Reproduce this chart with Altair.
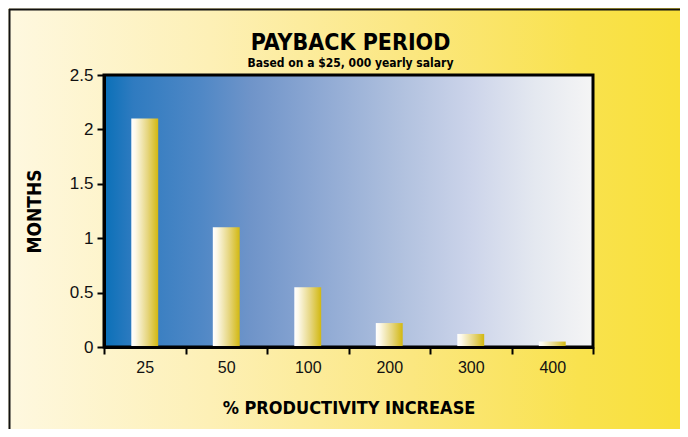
import altair as alt
import pandas as pd

# ---- data ----
categories = ["25", "50", "100", "200", "300", "400"]
months = [2.1, 1.1, 0.55, 0.22, 0.12, 0.05]
y_ticks = [0, 0.5, 1, 1.5, 2, 2.5]
title_text = "PAYBACK PERIOD"
subtitle_text = "Based on a $25, 000 yearly salary"

df = pd.DataFrame({"pct": categories, "months": months})
one = pd.DataFrame({"a": [0]})

W, H = 489, 272
PAD = {"left": 96, "top": 67, "right": 87, "bottom": 82}

COND = "Liberation Sans Narrow, DejaVu Sans Condensed, sans-serif"


def grad(stops):
    return alt.LinearGradient(
        gradient="linear", x1=0, x2=1, y1=0, y2=0,
        stops=[alt.GradientStop(offset=o, color=c) for o, c in stops],
    )


bg_grad = grad([(0, "#fef8e0"), (0.3, "#fdf0b6"), (0.6, "#fbe780"),
                (0.85, "#f9e24e"), (1, "#f9e03a")])
plot_grad = grad([(0, "#0a70b8"), (0.06, "#2f7bc0"), (0.2, "#5088c6"),
                  (0.3, "#6f94c9"), (0.45, "#90aad4"), (0.6, "#afc0de"),
                  (0.75, "#ccd4ea"), (0.88, "#e4e8f0"), (1, "#f5f5f5")])
bar_grad = grad([(0, "#ffffff"), (0.15, "#fdf9ea"), (0.6, "#e6d680"),
                 (1, "#d2b810")])

x_enc = alt.X(
    "pct:N", sort=categories,
    scale=alt.Scale(paddingInner=0, paddingOuter=0),
    axis=alt.Axis(
        title="% PRODUCTIVITY INCREASE", labelAngle=0, tickBand="extent",
        titlePadding=24, titleFontSize=18, zindex=2,
    ),
)
y_enc = alt.Y(
    "months:Q", scale=alt.Scale(domain=[0, 2.5], nice=False),
    axis=alt.Axis(values=y_ticks, format="~g", title="MONTHS",
                  titlePadding=25, titleFontSize=19, zindex=2),
)

background = alt.Chart(one).mark_rect(color=bg_grad).encode(
    x=alt.value(-PAD["left"]), x2=alt.value(W + PAD["right"]),
    y=alt.value(-PAD["top"]), y2=alt.value(H + PAD["bottom"]),
)
frame_top = alt.Chart(one).mark_rule(color="#111", strokeWidth=2).encode(
    x=alt.value(-PAD["left"] + 1), x2=alt.value(W + PAD["right"]),
    y=alt.value(-PAD["top"] + 1.5),
)
frame_left = alt.Chart(one).mark_rule(color="#111", strokeWidth=2).encode(
    x=alt.value(-PAD["left"] + 1.5),
    y=alt.value(-PAD["top"] + 1), y2=alt.value(H + PAD["bottom"]),
)
plot_bg = alt.Chart(one).mark_rect(color=plot_grad, stroke="black", strokeWidth=3).encode(
    x=alt.value(0), x2=alt.value(W), y=alt.value(0), y2=alt.value(H),
)
bars = alt.Chart(df).mark_bar(color=bar_grad, width={"band": 0.33}).encode(
    x=x_enc, y=y_enc,
)
title = alt.Chart(one).mark_text(
    text=title_text, font=COND, fontSize=23, fontWeight="bold", color="black",
    align="center", baseline="alphabetic",
).encode(x=alt.value(W / 2 + 2), y=alt.value(-25))
subtitle = alt.Chart(one).mark_text(
    text=subtitle_text, font=COND, fontSize=12, fontWeight="bold", color="black",
    align="center", baseline="alphabetic",
).encode(x=alt.value(W / 2 + 2), y=alt.value(-8))

chart = alt.layer(background, frame_top, frame_left, plot_bg, bars, title, subtitle).properties(
    width=W, height=H,
    autosize=alt.AutoSizeParams(type="none"),
    padding=PAD,
).configure_view(stroke=None).configure_axis(
    domainColor="black", domainWidth=3, tickColor="black", tickWidth=2,
    tickSize=7, labelFont="Liberation Sans", labelFontSize=17,
    labelColor="#111", labelPadding=4, titleFont=COND,
    titleFontWeight="bold", titleColor="black", grid=False,
).configure_axisX(labelFontSize=16, labelPadding=5)

chart.save("out.html", embed_options={"renderer": "svg", "actions": False})
